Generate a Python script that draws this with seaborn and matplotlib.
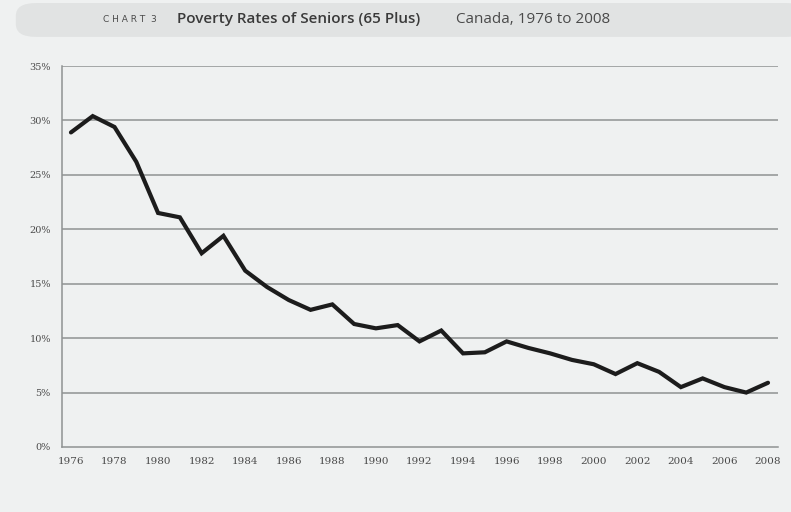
import pandas as pd
import seaborn as sns
import matplotlib.pyplot as plt
from matplotlib.patches import FancyBboxPatch

years = list(range(1976, 2009))
poverty_rate = [
    28.9, 30.4, 29.4, 26.2, 21.5, 21.1, 17.8, 19.4, 16.2, 14.7, 13.5,
    12.6, 13.1, 11.3, 10.9, 11.2, 9.7, 10.7, 8.6, 8.7, 9.7, 9.1,
    8.6, 8.0, 7.6, 6.7, 7.7, 6.9, 5.5, 6.3, 5.5, 5.0, 5.9,
]
y_ticks = [0, 5, 10, 15, 20, 25, 30, 35]
y_labels = ["0%", "5%", "10%", "15%", "20%", "25%", "30%", "35%"]
x_ticks = list(range(1976, 2009, 2))

BG = "#eff1f1"
GRID = "#8f9393"
TEXT = "#4a4a4a"

df = pd.DataFrame({"Year": years, "Rate": poverty_rate})

sns.set_style("white")
plt.rcParams["font.family"] = ["DejaVu Serif"]

fig = plt.figure(figsize=(7.91, 5.12), dpi=100, facecolor=BG)

# title banner
banner = FancyBboxPatch(
    (0.02, 0.928), 1.0, 0.066,
    boxstyle="round,pad=0,rounding_size=0.025",
    transform=fig.transFigure, facecolor="#e1e3e3", edgecolor="none",
)
fig.patches.append(banner)
fig.text(0.13, 0.962, "C H A R T  3", fontsize=6.5, color=TEXT, va="center",
         family=["DejaVu Sans"])
fig.text(0.224, 0.962, "Poverty Rates of Seniors (65 Plus)", fontsize=11,
         color="#3a3a3a", va="center", family=["Open Sans"], weight="semibold")
fig.text(0.5765, 0.962, "Canada, 1976 to 2008", fontsize=11, color=TEXT,
         va="center", family=["Open Sans"])

ax = fig.add_axes([0.0784, 0.127, 0.9052, 0.744])
ax.set_facecolor(BG)

sns.lineplot(data=df, x="Year", y="Rate", ax=ax, color="#1c1c1c",
             linewidth=3.0, solid_joinstyle="miter")

ax.set_xlim(1975.59, 2008.46)
ax.set_ylim(0, 35)
ax.set_yticks(y_ticks)
ax.set_yticklabels(y_labels)
ax.set_xticks(x_ticks)
ax.set_xticklabels([str(y) for y in x_ticks])
ax.set_xticks(years, minor=True)

for v in y_ticks[1:]:
    ax.axhline(v, color=GRID, linewidth=1.1, zorder=0)

ax.tick_params(axis="y", length=0, labelsize=7, colors=TEXT, pad=8)
ax.tick_params(axis="x", which="both", direction="in", length=4,
               color=GRID, labelsize=7.5, labelcolor=TEXT, pad=7)
ax.set_xlabel("")
ax.set_ylabel("")

for side in ["top", "right"]:
    ax.spines[side].set_visible(False)
for side in ["left", "bottom"]:
    ax.spines[side].set_color(GRID)
    ax.spines[side].set_linewidth(1.1)

fig.savefig("out.png", dpi=100, facecolor=BG)
